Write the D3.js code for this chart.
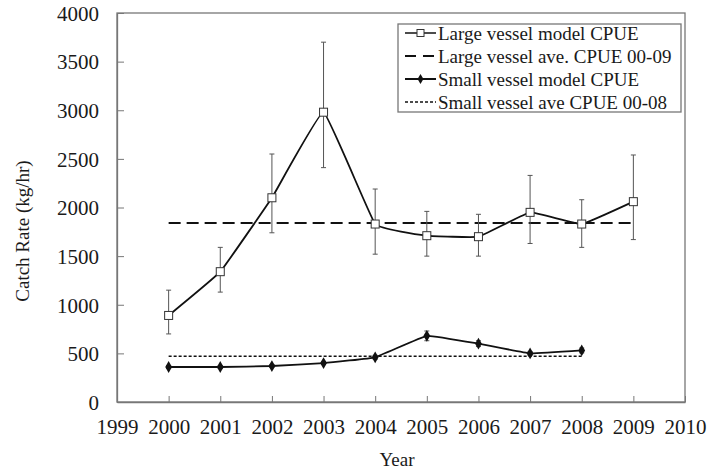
<!DOCTYPE html>
<html>
<head>
<meta charset="utf-8">
<script src="https://cdn.jsdelivr.net/npm/d3@7"></script>
<style>
  body { margin: 0; background: #fff; }
  text { font-family: "Liberation Serif", "Times New Roman", serif; fill: #1a1a1a; }
</style>
</head>
<body>
<svg width="708" height="470"></svg>
<script>
// data
const years = [2000, 2001, 2002, 2003, 2004, 2005, 2006, 2007, 2008, 2009];
const largeCpue = [890, 1340, 2100, 2980, 1830, 1710, 1700, 1950, 1830, 2060];
const largeLow = [700, 1130, 1740, 2410, 1520, 1500, 1500, 1630, 1590, 1670];
const largeHigh = [1150, 1590, 2550, 3700, 2190, 1960, 1930, 2330, 2080, 2540];
const smallYears = [2000, 2001, 2002, 2003, 2004, 2005, 2006, 2007, 2008];
const smallCpue = [360, 360, 370, 400, 460, 680, 600, 500, 530];
const smallLow = [345, 345, 355, 385, 440, 630, 570, 480, 505];
const smallHigh = [375, 375, 385, 415, 480, 730, 630, 520, 555];
const largeAvg = 1840, largeAvgRange = [2000, 2009];
const smallAvg = 470, smallAvgRange = [2000, 2008];
const legendLabels = ["Large vessel model CPUE", "Large vessel ave. CPUE 00-09",
                      "Small vessel model CPUE", "Small vessel ave CPUE 00-08"];

const svg = d3.select("svg"),
    plotLeft = 117, plotRight = 685, plotTop = 13, plotBottom = 402,
    serif = '"Liberation Serif", "Times New Roman", serif';

const x = d3.scaleLinear().domain([1999, 2010]).range([plotLeft, plotRight]);
const y = d3.scaleLinear().domain([0, 4000]).range([plotBottom, plotTop]);

// frame
svg.append("rect")
    .attr("x", plotLeft).attr("y", plotTop)
    .attr("width", plotRight - plotLeft).attr("height", plotBottom - plotTop)
    .attr("fill", "none").attr("stroke", "#777").attr("stroke-width", 1.3);

const xAxis = svg.append("g")
    .attr("transform", `translate(0,${plotBottom})`)
    .call(d3.axisBottom(x).tickValues(d3.range(1999, 2011)).tickFormat(d3.format("d"))
        .tickSizeInner(-6).tickSizeOuter(0));
xAxis.attr("font-family", serif);
xAxis.selectAll("text").attr("y", 32).attr("dy", 0).style("font-size", "21px");

const yAxis = svg.append("g")
    .attr("transform", `translate(${plotLeft},0)`)
    .call(d3.axisLeft(y).tickValues(d3.range(0, 4001, 500)).tickFormat(d3.format("d"))
        .tickSizeInner(-7).tickSizeOuter(0).tickPadding(18));
yAxis.attr("font-family", serif);
yAxis.selectAll("text").style("font-size", "21px").attr("dy", "0.35em");

svg.selectAll(".domain").attr("stroke", "#777").attr("stroke-width", 1.3);
svg.selectAll(".tick line").attr("stroke", "#777");

// axis titles
svg.append("text")
    .attr("x", (plotLeft + plotRight) / 2 - 4).attr("y", 466)
    .attr("text-anchor", "middle").style("font-size", "19px")
    .text("Year");
svg.append("text")
    .attr("transform", "translate(29,231) rotate(-90)")
    .attr("text-anchor", "middle").style("font-size", "19px")
    .text("Catch Rate (kg/hr)");

// average lines
svg.append("line")
    .attr("x1", x(largeAvgRange[0])).attr("x2", x(largeAvgRange[1]))
    .attr("y1", y(largeAvg)).attr("y2", y(largeAvg))
    .attr("stroke", "#111").attr("stroke-width", 2).attr("stroke-dasharray", "12,6");
svg.append("line")
    .attr("x1", x(smallAvgRange[0])).attr("x2", x(smallAvgRange[1]))
    .attr("y1", y(smallAvg)).attr("y2", y(smallAvg))
    .attr("stroke", "#111").attr("stroke-width", 1.6).attr("stroke-dasharray", "3,2");

// error bars
function errorBars(xs, lo, hi) {
  const g = svg.append("g").attr("stroke", "#555").attr("stroke-width", 1);
  xs.forEach((yr, i) => {
    g.append("line").attr("x1", x(yr)).attr("x2", x(yr)).attr("y1", y(lo[i])).attr("y2", y(hi[i]));
    [lo[i], hi[i]].forEach(v => g.append("line")
        .attr("x1", x(yr) - 2.5).attr("x2", x(yr) + 2.5).attr("y1", y(v)).attr("y2", y(v)));
  });
}
errorBars(years, largeLow, largeHigh);
errorBars(smallYears, smallLow, smallHigh);

const line = d3.line().curve(d3.curveCardinal.tension(0.75)).x(d => x(d[0])).y(d => y(d[1]));

svg.append("path")
    .attr("d", line(d3.zip(years, largeCpue)))
    .attr("fill", "none").attr("stroke", "#111").attr("stroke-width", 1.8);
svg.append("path")
    .attr("d", line(d3.zip(smallYears, smallCpue)))
    .attr("fill", "none").attr("stroke", "#111").attr("stroke-width", 1.8);

svg.selectAll(".sq").data(d3.zip(years, largeCpue)).join("rect")
    .attr("x", d => x(d[0]) - 4).attr("y", d => y(d[1]) - 4)
    .attr("width", 8).attr("height", 8)
    .attr("fill", "#fff").attr("stroke", "#333").attr("stroke-width", 1);

const diamond = d3.symbol().type(d3.symbolDiamond).size(40);
svg.selectAll(".dm").data(d3.zip(smallYears, smallCpue)).join("path")
    .attr("transform", d => `translate(${x(d[0])},${y(d[1])})`)
    .attr("d", diamond()).attr("fill", "#111");

// legend
const lg = svg.append("g");
lg.append("rect").attr("x", 398).attr("y", 24).attr("width", 283).attr("height", 88)
    .attr("fill", "#fff").attr("stroke", "#777").attr("stroke-width", 1.3);
const rowY = [33, 56, 79, 102];
legendLabels.forEach((t, i) => {
  lg.append("text").attr("x", 438).attr("y", rowY[i]).attr("dy", "0.35em")
      .style("font-size", "19px").text(t);
});
lg.append("line").attr("x1", 405).attr("x2", 436).attr("y1", rowY[0]).attr("y2", rowY[0])
    .attr("stroke", "#111").attr("stroke-width", 1.5);
lg.append("rect").attr("x", 417).attr("y", rowY[0] - 3.5).attr("width", 7).attr("height", 7)
    .attr("fill", "#fff").attr("stroke", "#333");
lg.append("line").attr("x1", 405).attr("x2", 436).attr("y1", rowY[1]).attr("y2", rowY[1])
    .attr("stroke", "#111").attr("stroke-width", 2).attr("stroke-dasharray", "11,7");
lg.append("line").attr("x1", 405).attr("x2", 436).attr("y1", rowY[2]).attr("y2", rowY[2])
    .attr("stroke", "#111").attr("stroke-width", 2);
lg.append("path").attr("transform", `translate(420.5,${rowY[2]})`)
    .attr("d", d3.symbol().type(d3.symbolDiamond).size(30)()).attr("fill", "#111");
lg.append("line").attr("x1", 405).attr("x2", 436).attr("y1", rowY[3]).attr("y2", rowY[3])
    .attr("stroke", "#111").attr("stroke-width", 1.5).attr("stroke-dasharray", "3,2");
</script>
</body>
</html>
